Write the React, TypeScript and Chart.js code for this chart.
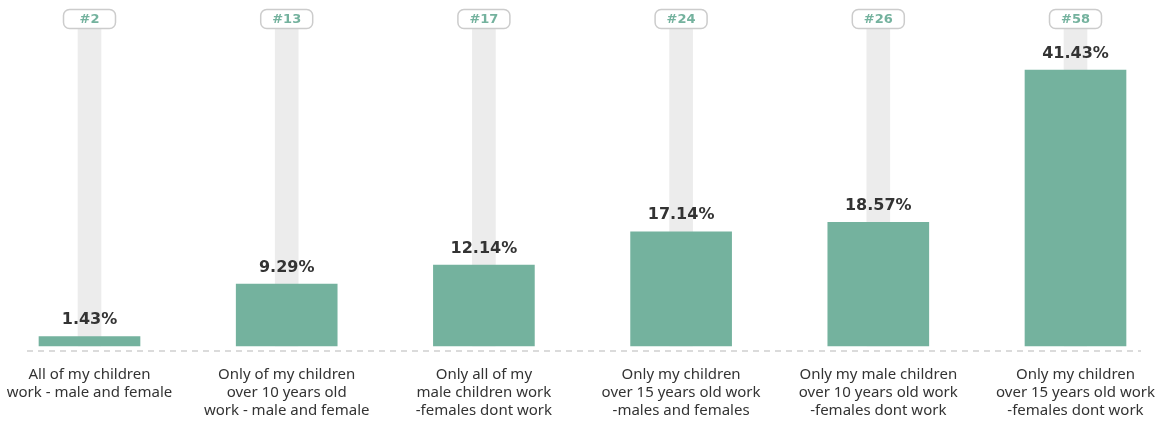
import React, { useEffect, useRef } from "react";
import { Chart, registerables } from "chart.js";

Chart.register(...registerables);

const categories: string[][] = [
  ["All of my children", "work - male and female"],
  ["Only of my children", "over 10 years old", "work - male and female"],
  ["Only all of my", "male children work", "-females dont work"],
  ["Only my children", "over 15 years old work", "-males and females"],
  ["Only my male children", "over 10 years old work", "-females dont work"],
  ["Only my children", "over 15 years old work", "-females dont work"],
];
const values: number[] = [1.43, 9.29, 12.14, 17.14, 18.57, 41.43];
const ranks: string[] = ["#2", "#13", "#17", "#24", "#26", "#58"];

const Y_MAX = 47.73;
const trackValues: number[] = categories.map(() => Y_MAX);

const GREEN = "#74b29e";

const decorPlugin = {
  id: "decor",
  beforeDatasetsDraw(chart: any) {
    const { ctx } = chart;
    const yBase = chart.scales.y.getPixelForValue(0);
    ctx.save();
    ctx.strokeStyle = "#d0d0d0";
    ctx.lineWidth = 1.5;
    ctx.setLineDash([6, 5]);
    ctx.beginPath();
    ctx.moveTo(27, yBase + 5);
    ctx.lineTo(1141, yBase + 5);
    ctx.stroke();
    ctx.restore();
  },
  afterDatasetsDraw(chart: any) {
    const { ctx } = chart;
    const meta = chart.getDatasetMeta(1);
    ctx.save();
    meta.data.forEach((bar: any, i: number) => {
      ctx.fillStyle = "#333333";
      ctx.font = "bold 16px 'DejaVu Sans'";
      ctx.textAlign = "center";
      ctx.textBaseline = "middle";
      ctx.fillText(values[i].toFixed(2) + "%", bar.x, bar.y - 16.5);
      const w = 52, h = 19, r = 6;
      const x0 = bar.x - w / 2, y0 = 9.5;
      ctx.beginPath();
      ctx.roundRect(x0, y0, w, h, r);
      ctx.fillStyle = "#ffffff";
      ctx.fill();
      ctx.strokeStyle = "#cccccc";
      ctx.lineWidth = 1.5;
      ctx.stroke();
      ctx.fillStyle = GREEN;
      ctx.font = "bold 13px 'DejaVu Sans'";
      ctx.fillText(ranks[i], bar.x, y0 + h / 2 + 0.5);
    });
    ctx.restore();
  },
};

export default function App() {
  const ref = useRef<HTMLCanvasElement | null>(null);
  useEffect(() => {
    if (!ref.current) return;
    const chart = new Chart(ref.current, {
      type: "bar",
      data: {
        labels: categories,
        datasets: [
          {
            label: "track",
            data: trackValues,
            backgroundColor: "#ececec",
            barThickness: 23,
            grouped: false,
            clip: false,
            order: 2,
          },
          {
            label: "share",
            data: values,
            backgroundColor: GREEN,
            barThickness: 101,
            grouped: false,
            clip: false,
            order: 1,
          },
        ],
      },
      options: {
        animation: false,
        responsive: true,
        maintainAspectRatio: false,
        layout: { padding: { left: 89.5, right: 87.5, top: 28, bottom: 0 } },
        plugins: { legend: { display: false }, tooltip: { enabled: false } },
        scales: {
          x: {
            offset: false,
            grid: { display: false, drawTicks: false },
            border: { display: false },
            ticks: {
              padding: 20,
              color: "#333333",
              font: { family: "'Noto Sans'", size: 15, lineHeight: "18px" },
              maxRotation: 0,
              autoSkip: false,
            },
            afterFit(scale: any) {
              scale.height = 75;
              scale.paddingLeft = 0;
              scale.paddingRight = 0;
            },
          },
          y: {
            display: false,
            min: 0,
            max: Y_MAX,
          },
        },
      },
      plugins: [decorPlugin],
    });
    return () => chart.destroy();
  }, []);
  return (
    <div style={{ position: "fixed", left: 0, top: 0, width: 1163, height: 421 }}>
      <canvas ref={ref} />
    </div>
  );
}
